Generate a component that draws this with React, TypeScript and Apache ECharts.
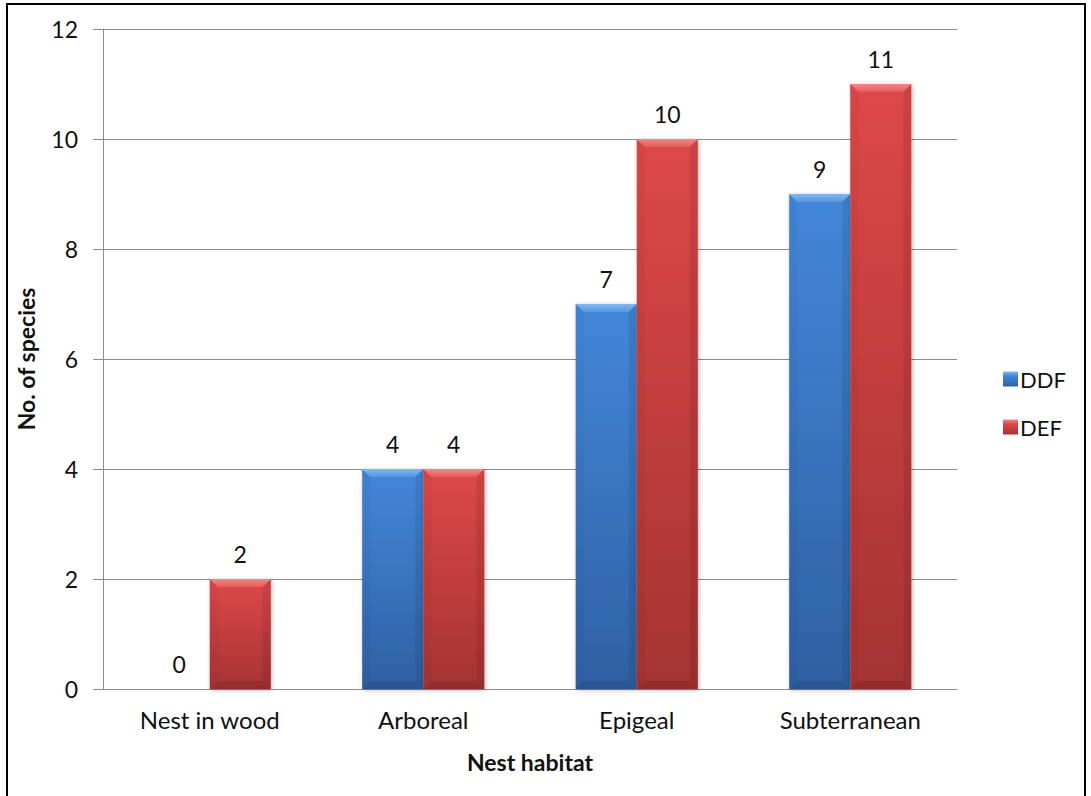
import React, { useEffect, useRef } from "react";
import * as echarts from "echarts";

// Nest habitat categories and species counts per forest type
const categories = ["Nest in wood", "Arboreal", "Epigeal", "Subterranean"];
const ddfCounts = [0, 4, 7, 9];
const defCounts = [2, 4, 10, 11];
const seriesNames = ["DDF", "DEF"];

const palettes = [
  { top: "#4387d9", bottom: "#2f60a3", bevelTop: "#82b8f3", bevelBottom: "#5396e2", solid: "#3a75c4" },
  { top: "#de4848", bottom: "#a53333", bevelTop: "#f48888", bevelBottom: "#e45a5a", solid: "#d04040" },
];

const FONT = "Lato, 'Open Sans', sans-serif";

function makeRenderItem(seriesIdx: number) {
  const pal = palettes[seriesIdx];
  return (params: any, api: any) => {
    const ci = api.value(0);
    const v = api.value(1);
    const base = api.coord([ci, 0]);
    const top = api.coord([ci, v]);
    const band = api.size([1, 0])[0];
    const w = band * 0.286;
    const x0 = base[0] + (seriesIdx === 0 ? -w : 0);
    const x1 = x0 + w;
    const yT = top[1];
    const yB = base[1];
    const h = yB - yT;
    const children: any[] = [];
    if (h > 0) {
      const b = Math.min(8, h / 2);
      children.push({
        type: "rect",
        shape: { x: x0, y: yT, width: w, height: h },
        style: {
          fill: new echarts.graphic.LinearGradient(0, 0, 0, 1, [
            { offset: 0, color: pal.top },
            { offset: 1, color: pal.bottom },
          ]),
          shadowBlur: 4,
          shadowOffsetX: 1,
          shadowOffsetY: 1,
          shadowColor: "rgba(0,0,0,0.3)",
        },
      });
      // left bevel
      children.push({
        type: "polygon",
        shape: { points: [[x0, yT], [x0 + b, yT + b], [x0 + b, yB - b], [x0, yB]] },
        style: { fill: "rgba(0,0,0,0.03)" },
      });
      // right bevel
      children.push({
        type: "polygon",
        shape: { points: [[x1, yT], [x1 - b, yT + b], [x1 - b, yB - b], [x1, yB]] },
        style: { fill: "rgba(0,0,0,0.08)" },
      });
      // bottom bevel
      children.push({
        type: "polygon",
        shape: { points: [[x0, yB], [x0 + b, yB - b], [x1 - b, yB - b], [x1, yB]] },
        style: { fill: "rgba(0,0,0,0.1)" },
      });
      // top bevel highlight
      children.push({
        type: "polygon",
        shape: { points: [[x0, yT], [x1, yT], [x1 - b, yT + b], [x0 + b, yT + b]] },
        style: {
          fill: new echarts.graphic.LinearGradient(0, 0, 0, 1, [
            { offset: 0, color: pal.bevelTop },
            { offset: 1, color: pal.bevelBottom },
          ]),
        },
      });
    }
    children.push({
      type: "text",
      x: x0 + w / 2,
      y: yT - 25,
      style: {
        text: String(v),
        fill: "#111",
        font: `23px ${FONT}`,
        align: "center",
        verticalAlign: "middle",
      },
    });
    return { type: "group", children };
  };
}

export default function App() {
  const ref = useRef<HTMLDivElement>(null);

  useEffect(() => {
    if (!ref.current) return;
    const chart = echarts.init(ref.current, undefined, { renderer: "svg" });
    const seriesData = [ddfCounts, defCounts];
    chart.setOption({
      animation: false,
      backgroundColor: "#ffffff",
      textStyle: { fontFamily: FONT },
      graphic: [
        {
          type: "rect",
          shape: { x: 7, y: 4, width: 1078, height: 900 },
          style: { fill: "none", stroke: "#000", lineWidth: 2 },
          silent: true,
        },
      ],
      grid: { left: 103, right: 134, top: 29, bottom: 107 },
      legend: {
        orient: "vertical",
        left: 998,
        top: 363,
        itemWidth: 15,
        itemHeight: 15,
        itemGap: 26,
        icon: "rect",
        textStyle: { fontSize: 22, color: "#111", fontFamily: FONT, padding: [0, 0, 0, -3] },
        data: seriesNames.map((name, i) => ({
          name,
          itemStyle: {
            color: new echarts.graphic.LinearGradient(0, 0, 0, 1, [
              { offset: 0, color: palettes[i].bevelTop },
              { offset: 0.3, color: palettes[i].top },
              { offset: 1, color: palettes[i].bottom },
            ]),
          },
        })),
      },
      xAxis: {
        type: "category",
        data: categories,
        name: "Nest habitat",
        nameLocation: "middle",
        nameGap: 61,
        nameTextStyle: { fontSize: 23, fontWeight: "bold", color: "#111", fontFamily: FONT },
        axisLine: { lineStyle: { color: "#8c8c8c", width: 1 } },
        axisTick: { show: false },
        axisLabel: { fontSize: 24, color: "#111", margin: 18, fontFamily: FONT },
      },
      yAxis: {
        type: "value",
        min: 0,
        max: 12,
        interval: 2,
        name: "No. of species",
        nameLocation: "middle",
        nameGap: 66,
        nameRotate: 90,
        nameTextStyle: { fontSize: 23, fontWeight: "bold", color: "#111", fontFamily: FONT },
        axisLine: { show: true, lineStyle: { color: "#8c8c8c", width: 1 } },
        axisTick: { show: true, length: 10, lineStyle: { color: "#8c8c8c" } },
        splitLine: { lineStyle: { color: "#8c8c8c", width: 1 } },
        axisLabel: { fontSize: 23, color: "#111", margin: 25, fontFamily: FONT },
      },
      series: seriesNames.map((name, i) => ({
        type: "custom",
        name,
        itemStyle: { color: palettes[i].solid },
        renderItem: makeRenderItem(i),
        encode: { x: 0, y: 1 },
        data: seriesData[i].map((v, ci) => [ci, v]),
        z: 3,
      })),
    });
    return () => chart.dispose();
  }, []);

  return (
    <div
      ref={ref}
      style={{ position: "fixed", left: 0, top: 0, width: 1091, height: 796 }}
    />
  );
}
